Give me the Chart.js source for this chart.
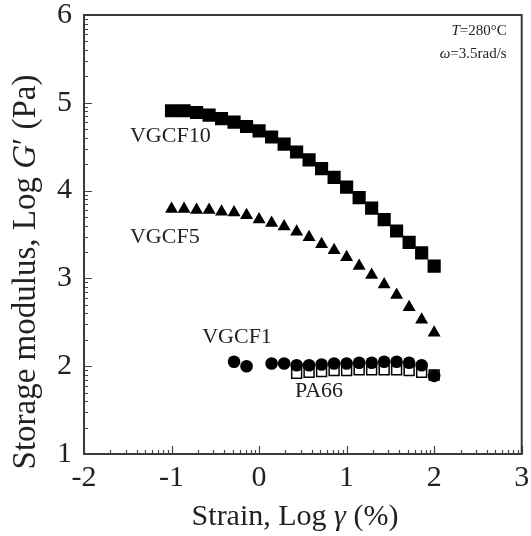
<!DOCTYPE html>
<html lang="en">
<head>
  <meta charset="UTF-8">
  <title>Storage modulus vs strain</title>
  <script src="https://cdn.jsdelivr.net/npm/chart.js"></script>
  <style>
    body {
      margin: 0;
      background-color: #fff;
    }

    .wrap {
      width: 531px;
      height: 536px;
    }
  </style>
</head>
<body>
  <div class="wrap">
    <canvas id="gChart" width="531" height="536"></canvas>
  </div>

<script>
    // log strain (%) and log G' (Pa)
    const vgcf10Strain = [-1.000, -0.857, -0.714, -0.571, -0.429, -0.286, -0.143, 0.000, 0.143, 0.286, 0.429,
                          0.571, 0.714, 0.857, 1.000, 1.143, 1.286, 1.429, 1.571, 1.714, 1.857, 2.000];
    const vgcf10G = [4.91, 4.91, 4.89, 4.86, 4.82, 4.78, 4.73, 4.68, 4.61, 4.53, 4.44,
                     4.35, 4.25, 4.15, 4.04, 3.92, 3.80, 3.67, 3.54, 3.41, 3.29, 3.14];

    const vgcf5Strain = [-1.000, -0.857, -0.714, -0.571, -0.429, -0.286, -0.143, 0.000, 0.143, 0.286, 0.429,
                         0.571, 0.714, 0.857, 1.000, 1.143, 1.286, 1.429, 1.571, 1.714, 1.857, 2.000];
    const vgcf5G = [3.79, 3.79, 3.78, 3.78, 3.76, 3.75, 3.72, 3.67, 3.63, 3.59, 3.53,
                    3.47, 3.39, 3.32, 3.24, 3.14, 3.04, 2.93, 2.81, 2.67, 2.53, 2.38];

    const vgcf1Strain = [-0.286, -0.143, 0.143, 0.286, 0.429, 0.571, 0.714, 0.857,
                         1.000, 1.143, 1.286, 1.429, 1.571, 1.714, 1.857, 2.000];
    const vgcf1G = [2.05, 2.00, 2.03, 2.03, 2.01, 2.01, 2.02, 2.03,
                    2.03, 2.04, 2.04, 2.05, 2.05, 2.04, 2.01, 1.89];

    const pa66Strain = [0.429, 0.571, 0.714, 0.857, 1.000, 1.143, 1.286, 1.429, 1.571, 1.714, 1.857, 2.000];
    const pa66G = [1.92, 1.93, 1.94, 1.95, 1.95, 1.96, 1.96, 1.96, 1.96, 1.95, 1.93, 1.90];

    const xTicks = [-2, -1, 0, 1, 2, 3];
    const yTicks = [1, 2, 3, 4, 5, 6];

    // series labels placed in data coordinates (left edge, middle)
    const seriesLabels = [
      { text: 'VGCF10', x: -1.475, y: 4.62 },
      { text: 'VGCF5', x: -1.475, y: 3.47 },
      { text: 'VGCF1', x: -0.65, y: 2.33 },
      { text: 'PA66', x: 0.41, y: 1.72 }
    ];

    const SERIF = '"Liberation Serif", "DejaVu Serif", serif';

    function toPoints(xs, ys) {
      return xs.map((x, i) => ({ x: x, y: ys[i] }));
    }

    // draws a run of [text, italic] pieces centred on (cx, cy)
    function drawRich(ctx, parts, size, cx, cy) {
      const widths = parts.map(p => {
        ctx.font = (p[1] ? 'italic ' : '') + size + 'px ' + SERIF;
        return ctx.measureText(p[0]).width;
      });
      let x = cx - widths.reduce((s, w) => s + w, 0) / 2;
      parts.forEach((p, i) => {
        ctx.font = (p[1] ? 'italic ' : '') + size + 'px ' + SERIF;
        ctx.fillText(p[0], x, cy);
        x += widths[i];
      });
    }

    // frame, inward ticks, titles, text annotations
    const framePlugin = {
      id: 'frame',
      afterDraw(chart) {
        const ctx = chart.ctx;
        const a = chart.chartArea;
        const xs = chart.scales.x;
        const ys = chart.scales.y;
        ctx.save();

        ctx.strokeStyle = '#444';
        ctx.lineWidth = 1.2;
        ctx.beginPath();
        // minor ticks at log positions inside each decade
        for (let d = xTicks[0]; d < xTicks[xTicks.length - 1]; d++) {
          for (let k = 2; k <= 9; k++) {
            const px = Math.round(xs.getPixelForValue(d + Math.log10(k))) + 0.5;
            ctx.moveTo(px, a.bottom);
            ctx.lineTo(px, a.bottom - 4);
          }
        }
        for (let d = yTicks[0]; d < yTicks[yTicks.length - 1]; d++) {
          for (let k = 2; k <= 9; k++) {
            const py = Math.round(ys.getPixelForValue(d + Math.log10(k))) + 0.5;
            ctx.moveTo(a.left, py);
            ctx.lineTo(a.left + 4, py);
          }
        }
        xTicks.forEach(v => {
          const px = Math.round(xs.getPixelForValue(v)) + 0.5;
          ctx.moveTo(px, a.bottom);
          ctx.lineTo(px, a.bottom - 8);
        });
        yTicks.forEach(v => {
          const py = Math.round(ys.getPixelForValue(v)) + 0.5;
          ctx.moveTo(a.left, py);
          ctx.lineTo(a.left + 8, py);
        });
        ctx.stroke();

        ctx.strokeStyle = '#3a3a3a';
        ctx.lineWidth = 2;
        ctx.strokeRect(a.left, a.top, a.right - a.left, a.bottom - a.top);

        ctx.fillStyle = '#222';
        ctx.textBaseline = 'middle';
        ctx.textAlign = 'left';
        ctx.font = '22px ' + SERIF;
        seriesLabels.forEach(l => {
          ctx.fillText(l.text, xs.getPixelForValue(l.x), ys.getPixelForValue(l.y));
        });

        // test conditions, top right
        const rightEdge = a.right - 15;
        const drawLine = (italic, rest, y) => {
          ctx.font = '15px ' + SERIF;
          const wRest = ctx.measureText(rest).width;
          ctx.font = 'italic 15px ' + SERIF;
          const wIt = ctx.measureText(italic).width;
          const x0 = rightEdge - wRest - wIt;
          ctx.fillText(italic, x0, y);
          ctx.font = '15px ' + SERIF;
          ctx.fillText(rest, x0 + wIt, y);
        };
        drawLine('T', '=280\u00B0C', a.top + 16);
        drawLine('\u03C9', '=3.5rad/s', a.top + 39);

        // axis titles
        drawRich(ctx, [['Strain, Log ', false], ['\u03B3', true], [' (%)', false]], 30, 295, 517);
        ctx.translate(26, 272);
        ctx.rotate(-Math.PI / 2);
        drawRich(ctx, [['Storage modulus, Log ', false], ['G', true], ['\u2032 (Pa)', false]], 33, 0, 0);

        ctx.restore();
      }
    };

    new Chart(document.getElementById('gChart').getContext('2d'), {
      type: 'scatter',
      data: {
        datasets: [
          {
            label: 'VGCF10', data: toPoints(vgcf10Strain, vgcf10G),
            pointStyle: 'rect', pointRadius: 9.3, backgroundColor: '#000', borderColor: '#000', borderWidth: 0
          },
          {
            label: 'VGCF5', data: toPoints(vgcf5Strain, vgcf5G),
            pointStyle: 'triangle', pointRadius: 7.5, backgroundColor: '#000', borderColor: '#000', borderWidth: 0
          },
          {
            label: 'VGCF1', data: toPoints(vgcf1Strain, vgcf1G),
            pointStyle: 'circle', pointRadius: 6.3, backgroundColor: '#000', borderColor: '#000', borderWidth: 0
          },
          {
            label: 'PA66', data: toPoints(pa66Strain, pa66G),
            pointStyle: 'rect', pointRadius: 7, backgroundColor: '#fff', borderColor: '#000', borderWidth: 1.5
          }
        ]
      },
      options: {
        responsive: false,
        animation: false,
        layout: { padding: { top: 15, right: 9, left: 0, bottom: 0 } },
        plugins: {
          legend: { display: false },
          tooltip: { enabled: false }
        },
        scales: {
          x: {
            type: 'linear',
            min: -2,
            max: 3,
            afterBuildTicks: s => { s.ticks = xTicks.map(v => ({ value: v })); },
            afterFit: s => { s.height = 82; s.paddingLeft = 0; s.paddingRight = 0; },
            grid: { display: false, drawTicks: false },
            border: { display: false },
            ticks: {
              padding: 6,
              color: '#222',
              font: { family: SERIF, size: 30 },
              callback: v => String(v)
            }
          },
          y: {
            type: 'linear',
            min: 1,
            max: 6,
            afterBuildTicks: s => { s.ticks = yTicks.map(v => ({ value: v })); },
            afterFit: s => { s.width = 84; s.paddingTop = 0; s.paddingBottom = 0; },
            grid: { display: false, drawTicks: false },
            border: { display: false },
            ticks: {
              padding: 12,
              color: '#222',
              font: { family: SERIF, size: 30 },
              callback: v => String(v)
            }
          }
        }
      },
      plugins: [framePlugin]
    });
</script>
</body>
</html>
